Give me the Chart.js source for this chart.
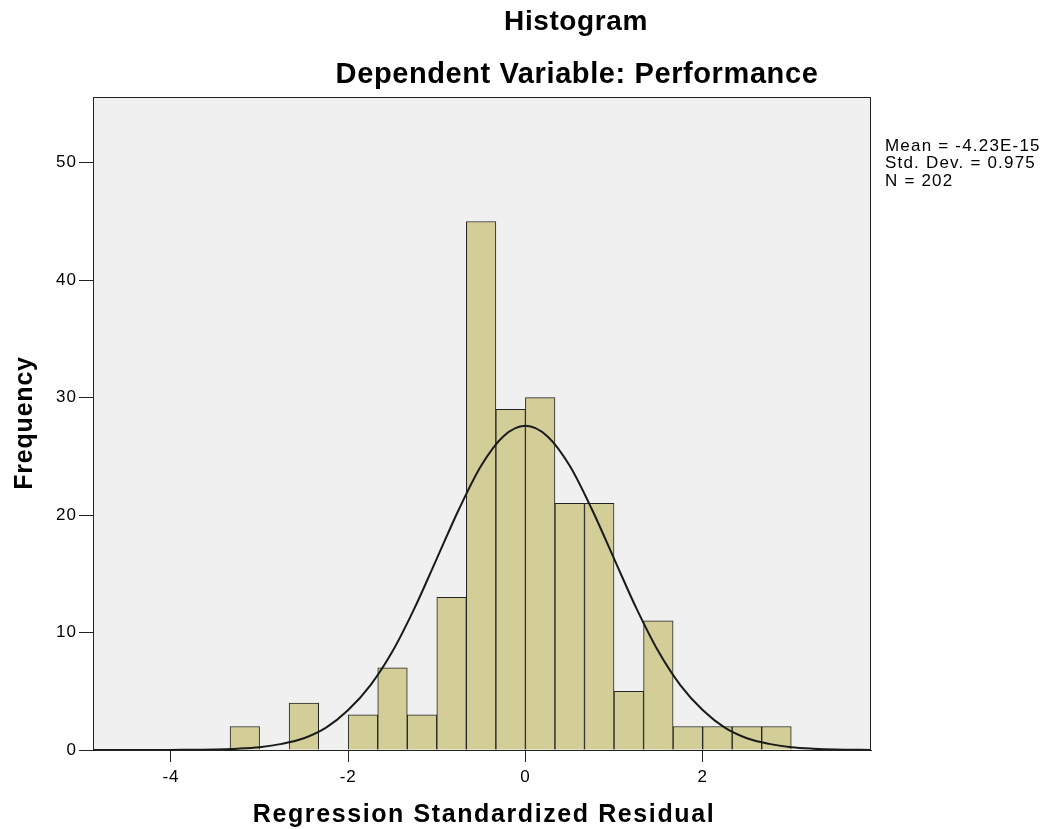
<!DOCTYPE html>
<html>
<head>
<meta charset="utf-8">
<script src="https://cdn.jsdelivr.net/npm/chart.js@4.4.1/dist/chart.umd.min.js"></script>
<style>
  html, body { margin: 0; padding: 0; background: #fff; }
  #wrap { width: 1050px; height: 829px; position: relative; }
</style>
</head>
<body>
<div id="wrap"><canvas id="canvas"></canvas></div>
<script>
// histogram bins (width 1/3), centres and counts
const binCenters = [-3.1667, -2.8333, -2.5, -2.1667, -1.8333, -1.5, -1.1667, -0.8333, -0.5, -0.1667,
                    0.1667, 0.5, 0.8333, 1.1667, 1.5, 1.8333, 2.1667, 2.5, 2.8333];
const frequencies = [2, 0, 4, 0, 3, 7, 3, 13, 45, 29, 30, 21, 21, 5, 11, 2, 2, 2, 2];

// normal curve, read at points along the drawn line
const curveX = [-4.88, -4.5, -4, -3.5, -3.25, -3, -2.75, -2.5, -2.25, -2, -1.75, -1.5, -1.25, -1, -0.75, -0.5, -0.25, 0,
                0.25, 0.5, 0.75, 1, 1.25, 1.5, 1.75, 2, 2.25, 2.5, 2.75, 3, 3.25, 3.5, 3.9];
const curveY = [0, 0, 0.01, 0.04, 0.11, 0.24, 0.52, 1.0, 1.9, 3.4, 5.5, 8.4, 12.1, 16.3, 20.5, 24.2, 26.7, 27.6,
                26.7, 24.2, 20.5, 16.3, 12.1, 8.4, 5.5, 3.4, 1.9, 1.0, 0.52, 0.24, 0.11, 0.04, 0.01];

const titleLines = ['Histogram', 'Dependent Variable: Performance'];
const statsLines = ['Mean = -4.23E-15', 'Std. Dev. = 0.975', 'N = 202'];
const xTitle = 'Regression Standardized Residual';
const yTitle = 'Frequency';

const FONT = "'Liberation Sans', Arial, sans-serif";

window.addEventListener('load', setup);

function setup() {
  const ctx = document.getElementById('canvas').getContext('2d');

  // SPSS draws its text a little wider than Arial
  function text(c, s, x, y, font, spacing) {
    c.font = font;
    c.letterSpacing = spacing + 'px';
    c.fillText(s, x, y);
  }

  const frame = {
    id: 'frame',
    beforeDraw(chart) {
      chart.ctx.letterSpacing = '1px';
    },
    beforeDatasetsDraw(chart) {
      const a = chart.chartArea, c = chart.ctx;
      c.save();
      c.fillStyle = '#f0f0f0';
      c.fillRect(a.left, a.top, a.right - a.left, a.bottom - a.top);
      c.restore();
    },
    afterDraw(chart) {
      const a = chart.chartArea, c = chart.ctx;
      c.save();
      c.strokeStyle = '#222';
      c.lineWidth = 1;
      c.strokeRect(a.left + 0.5, a.top + 0.5, a.right - a.left - 1, a.bottom - a.top);
      c.fillStyle = '#000';
      c.textAlign = 'center';
      c.textBaseline = 'middle';
      text(c, titleLines[0], 576, 22, 'bold 28px ' + FONT, 0.6);
      text(c, titleLines[1], 577, 75, 'bold 29px ' + FONT, 0.6);
      text(c, xTitle, 484, 815, 'bold 25px ' + FONT, 1.6);
      c.save();
      c.translate(25, 423);
      c.rotate(-Math.PI / 2);
      text(c, yTitle, 0, 0, 'bold 25px ' + FONT, 0.8);
      c.restore();
      c.textAlign = 'left';
      statsLines.forEach((s, i) => text(c, s, 885, 146 + i * 17.5, '17px ' + FONT, 1.2));
      c.restore();
    }
  };

  const wholeTicks = scale => {
    scale.ticks = scale.ticks.filter(t => Number.isInteger(t.value));
  };

  new Chart(ctx, {
    data: {
      datasets: [
        {
          type: 'line',
          data: curveX.map((x, i) => ({ x: x, y: curveY[i] })),
          borderColor: '#1a1a1a',
          borderWidth: 2,
          pointRadius: 0,
          cubicInterpolationMode: 'monotone',
          order: 0
        },
        {
          type: 'bar',
          data: binCenters.map((x, i) => ({ x: x, y: frequencies[i] })),
          backgroundColor: 'rgb(211, 206, 151)',
          borderColor: '#222',
          borderWidth: 1,
          barPercentage: 1,
          categoryPercentage: 1,
          order: 1
        }
      ]
    },
    options: {
      responsive: true,
      maintainAspectRatio: false,
      animation: false,
      layout: { padding: { top: 97, right: 179, left: 0, bottom: 0 } },
      plugins: { legend: { display: false }, tooltip: { enabled: false } },
      scales: {
        x: {
          type: 'linear',
          offset: false,
          min: -4.88,
          max: 3.9,
          afterFit: s => { s.height = 79; },
          afterBuildTicks: wholeTicks,
          ticks: { stepSize: 2, color: '#000', padding: 5, maxRotation: 0, font: { family: FONT, size: 17 } },
          grid: { offset: false, drawOnChartArea: false, tickLength: 12, color: '#222' },
          border: { color: '#222', width: 1 }
        },
        y: {
          min: 0,
          max: 55.6,
          afterFit: s => { s.width = 93; },
          afterBuildTicks: wholeTicks,
          ticks: { stepSize: 10, color: '#000', padding: 2, font: { family: FONT, size: 17 } },
          grid: { drawOnChartArea: false, tickLength: 14, color: '#222' },
          border: { color: '#222', width: 1 }
        }
      }
    },
    plugins: [frame]
  });
}
</script>
</body>
</html>
